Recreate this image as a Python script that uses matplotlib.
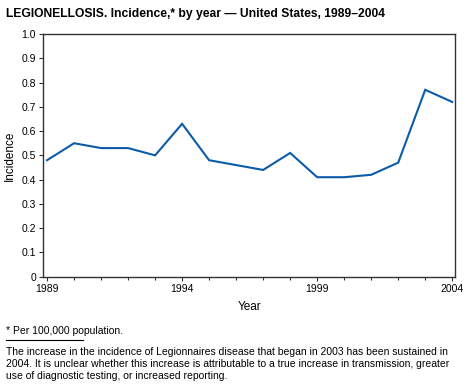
import matplotlib.pyplot as plt
from matplotlib.ticker import MultipleLocator, FixedLocator

plt.rcParams['font.family'] = ['Liberation Sans', 'DejaVu Sans']

# incidence per 100,000 population
years = [1989, 1990, 1991, 1992, 1993, 1994, 1995, 1996, 1997, 1998,
         1999, 2000, 2001, 2002, 2003, 2004]
incidence = [0.48, 0.55, 0.53, 0.53, 0.50, 0.63, 0.48, 0.46, 0.44, 0.51,
             0.41, 0.41, 0.42, 0.47, 0.77, 0.72]
year_labels = [1989, 1994, 1999, 2004]
y_ticks = [0, 0.1, 0.2, 0.3, 0.4, 0.5, 0.6, 0.7, 0.8, 0.9, 1.0]

fig = plt.figure(figsize=(4.7, 3.86), dpi=100)
ax = fig.add_axes([0.0915, 0.283, 0.877, 0.629])

ax.plot(years, incidence, color='#0b5ca8', lw=1.5, solid_joinstyle='miter')

ax.set_xlim(1988.85, 2004.11)
ax.set_ylim(0, 1.0)
ax.xaxis.set_major_locator(FixedLocator(year_labels))
ax.xaxis.set_minor_locator(MultipleLocator(1))
ax.set_yticks(y_ticks)
ax.set_yticklabels(['0' if v == 0 else f'{v:.1f}' for v in y_ticks])

ax.tick_params(axis='both', which='both', direction='out', labelsize=7.5,
               color='#333333', width=0.8)
ax.tick_params(axis='x', which='major', length=3, pad=2)
ax.tick_params(axis='x', which='minor', length=2)
ax.tick_params(axis='y', length=3, pad=2)
for s in ax.spines.values():
    s.set_color('#333333')
    s.set_linewidth(1.0)

ax.set_xlabel('Year', fontsize=8.5, labelpad=5)
ax.set_ylabel('Incidence', fontsize=8.5, labelpad=4)

fig.text(0.013, 0.965, 'LEGIONELLOSIS. Incidence,* by year \u2014 United States, 1989\u20132004',
         fontsize=8.7, fontweight='bold', va='center')

fig.text(0.013, 0.143, '* Per 100,000 population.', fontsize=7.5, va='center')
fig.add_artist(plt.Line2D([0.013, 0.177], [0.119, 0.119], color='black', lw=0.8,
                          transform=fig.transFigure))
note = ('The increase in the incidence of Legionnaires disease that began in 2003 has been sustained in\n'
        '2004. It is unclear whether this increase is attributable to a true increase in transmission, greater\n'
        'use of diagnostic testing, or increased reporting.')
fig.text(0.013, 0.1, note, fontsize=7.5, va='top', linespacing=1.2)

fig.savefig('out.png', dpi=100)
